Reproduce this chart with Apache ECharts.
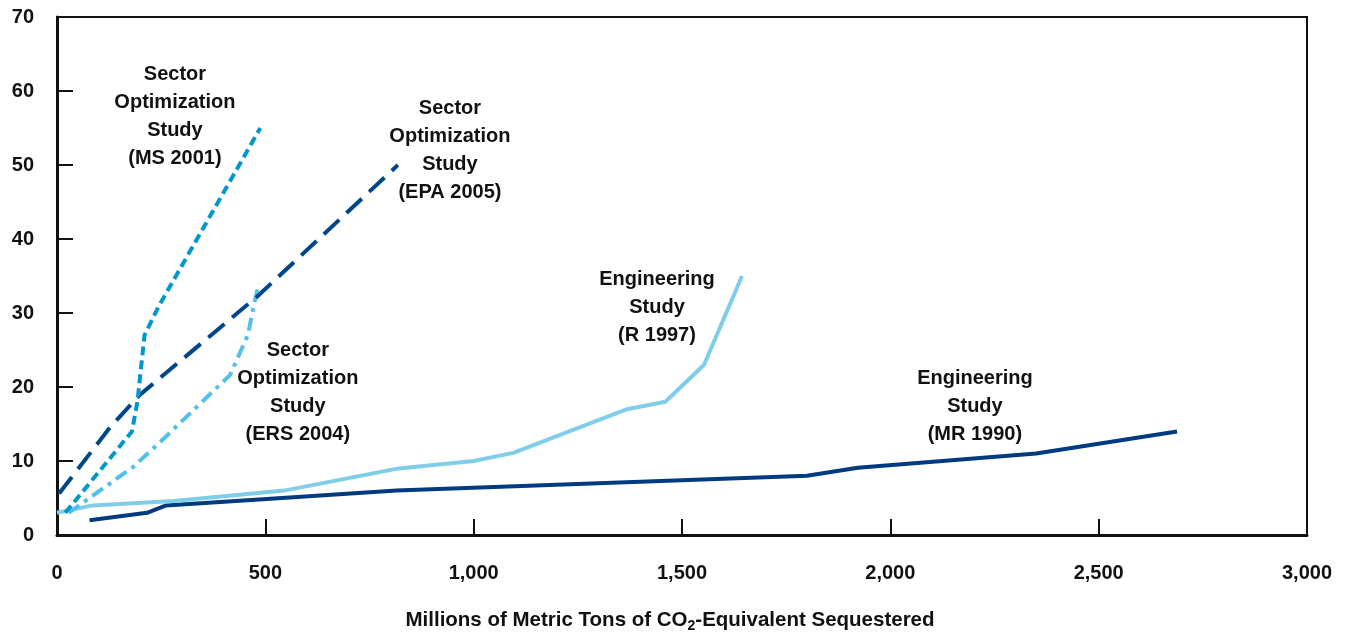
<!DOCTYPE html>
<html>
<head>
<meta charset="utf-8">
<script src="https://cdn.jsdelivr.net/npm/echarts@6/dist/echarts.min.js"></script>
<style>
  html, body { margin: 0; padding: 0; background: #fff; }
  #main { width: 1347px; height: 635px; }
</style>
</head>
<body>
<div id="main"></div>
<script>
// data: [sequestered (MMT CO2e), price]
var mr1990 = [[78, 2], [216, 3], [262, 4], [540, 5], [815, 6], [1800, 8], [1922, 9.1], [2350, 11], [2688, 14]];
var r1997 = [[0, 3], [85, 4], [280, 4.6], [545, 6], [820, 9], [1000, 10], [1095, 11.1], [1368, 17], [1460, 18], [1553, 23], [1644, 35]];
var ms2001 = [[20, 3], [180, 14], [193, 18], [210, 27], [245, 31], [488, 55]];
var epa2005 = [[5, 5.6], [128, 14.6], [200, 19], [480, 32.2], [818, 50]];
var ers2004 = [[28, 3], [78, 5], [183, 9.2], [252, 12.8], [415, 21.6], [458, 27], [474, 31.5], [485, 34]];

var xTicks = ['0', '500', '1,000', '1,500', '2,000', '2,500', '3,000'];

// where the study names sit, in data units
var notes = [
    [283, 56.5, 'Sector\nOptimization\nStudy\n(MS 2001)'],
    [943, 51.9, 'Sector\nOptimization\nStudy\n(EPA 2005)'],
    [578, 19.3, 'Sector\nOptimization\nStudy\n(ERS 2004)'],
    [1440, 30.8, 'Engineering\nStudy\n(R 1997)'],
    [2203, 17.4, 'Engineering\nStudy\n(MR 1990)']
];

var myChart = echarts.init(document.getElementById('main'));
var font = '"Liberation Sans", Arial, sans-serif';

function line(name, data, color, type) {
    return {
        name: name,
        type: 'line',
        data: data,
        showSymbol: false,
        symbol: 'none',
        animation: false,
        lineStyle: { color: color, width: 4, type: type, cap: 'butt', join: 'round' },
        z: 3
    };
}

option = {
    backgroundColor: '#fff',
    grid: {
        left: 57, right: 40, top: 17, bottom: 100,
        outerBoundsMode: 'none',
        containLabel: false,
        show: true, borderColor: '#111', borderWidth: 2
    },
    xAxis: {
        type: 'value',
        min: 0, max: 3000, interval: 500,
        name: 'Millions of Metric Tons of CO{sub|2}-Equivalent Sequestered',
        nameLocation: 'middle',
        nameGap: 73,
        nameMoveOverlap: false,
        nameTextStyle: {
            fontFamily: font, fontWeight: 'bold', fontSize: 20.5, color: '#111',
            padding: [0, 24, 0, 0],
            rich: { sub: { fontFamily: font, fontWeight: 'bold', fontSize: 14, color: '#111', padding: [11, 0, 0, 0] } }
        },
        axisLine: { lineStyle: { color: '#111', width: 3 } },
        axisTick: { inside: true, length: 16, lineStyle: { color: '#111', width: 2 } },
        splitLine: { show: false },
        axisLabel: {
            margin: 28,
            fontFamily: font, fontWeight: 'bold', fontSize: 20, color: '#111',
            formatter: function (v) { return xTicks[v / 500]; }
        }
    },
    yAxis: {
        type: 'value',
        min: 0, max: 70, interval: 10,
        axisLine: { show: true, lineStyle: { color: '#111', width: 3 } },
        axisTick: { show: true, inside: true, length: 16, lineStyle: { color: '#111', width: 2 } },
        splitLine: { show: false },
        axisLabel: {
            margin: 23,
            fontFamily: font, fontWeight: 'bold', fontSize: 20, color: '#111'
        }
    },
    series: [
        line('MR 1990', mr1990, '#003a80', 'solid'),
        line('R 1997', r1997, '#80cdea', 'solid'),
        line('ERS 2004', ers2004, '#52c1e8', [13, 6, 4, 6]),
        line('EPA 2005', epa2005, '#00478a', [21, 10]),
        line('MS 2001', ms2001, '#0097cd', [9, 5]),
        {
            name: 'notes',
            type: 'scatter',
            data: notes,
            symbolSize: 0,
            itemStyle: { color: '#111', opacity: 1 },
            animation: false,
            silent: true,
            z: 5,
            label: {
                show: true,
                position: 'inside',
                formatter: function (p) { return p.data[2]; },
                fontFamily: font, fontWeight: 'bold', fontSize: 20,
                lineHeight: 28, color: '#111', opacity: 1, align: 'center',
                textBorderWidth: 0
            }
        }
    ]
};

if (option && typeof option === "object") {
    myChart.setOption(option, true);
}
</script>
</body>
</html>
